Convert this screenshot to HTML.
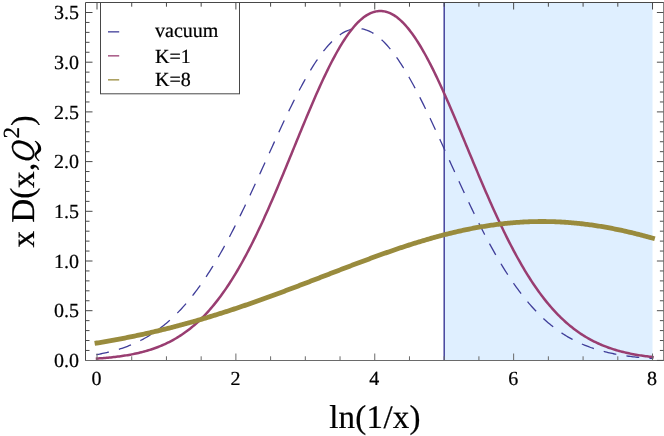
<!DOCTYPE html>
<html><head><meta charset="utf-8"><style>
html,body{margin:0;padding:0;background:#fff;}
svg{display:block;font-family:"Liberation Serif",serif;text-rendering:geometricPrecision;will-change:transform;}
</style></head><body>
<svg width="664" height="436" viewBox="0 0 664 436">
<rect width="664" height="436" fill="#fff"/>
<rect x="444.20" y="2.5" width="208.32" height="358.0" fill="#dfefff"/>
<line x1="444.20" y1="2.5" x2="444.20" y2="360.5" stroke="#3f3d99" stroke-width="1.45"/>
<path d="M97.00,354.55 L98.39,354.29 L99.78,354.03 L101.17,353.76 L102.56,353.48 L103.94,353.18 L105.33,352.88 L106.72,352.56 L108.11,352.24 L109.50,351.90 L110.89,351.55 L112.28,351.19 L113.67,350.81 L115.05,350.42 L116.44,350.02 L117.83,349.61 L119.22,349.18 L120.61,348.73 L122.00,348.27 L123.39,347.80 L124.78,347.30 L126.16,346.80 L127.55,346.27 L128.94,345.73 L130.33,345.17 L131.72,344.60 L133.11,344.00 L134.50,343.39 L135.89,342.76 L137.28,342.11 L138.66,341.44 L140.05,340.75 L141.44,340.03 L142.83,339.30 L144.22,338.54 L145.61,337.77 L147.00,336.97 L148.39,336.15 L149.77,335.30 L151.16,334.43 L152.55,333.54 L153.94,332.62 L155.33,331.67 L156.72,330.70 L158.11,329.71 L159.50,328.69 L160.88,327.64 L162.27,326.56 L163.66,325.46 L165.05,324.33 L166.44,323.17 L167.83,321.98 L169.22,320.77 L170.61,319.52 L172.00,318.24 L173.38,316.94 L174.77,315.60 L176.16,314.23 L177.55,312.83 L178.94,311.40 L180.33,309.94 L181.72,308.45 L183.11,306.92 L184.49,305.36 L185.88,303.77 L187.27,302.14 L188.66,300.49 L190.05,298.80 L191.44,297.07 L192.83,295.31 L194.22,293.52 L195.60,291.69 L196.99,289.83 L198.38,287.94 L199.77,286.01 L201.16,284.05 L202.55,282.05 L203.94,280.02 L205.33,277.95 L206.72,275.85 L208.10,273.72 L209.49,271.55 L210.88,269.35 L212.27,267.12 L213.66,264.85 L215.05,262.55 L216.44,260.22 L217.83,257.86 L219.21,255.46 L220.60,253.03 L221.99,250.57 L223.38,248.08 L224.77,245.56 L226.16,243.01 L227.55,240.43 L228.94,237.82 L230.32,235.18 L231.71,232.52 L233.10,229.83 L234.49,227.11 L235.88,224.36 L237.27,221.59 L238.66,218.80 L240.05,215.99 L241.44,213.15 L242.82,210.29 L244.21,207.41 L245.60,204.51 L246.99,201.59 L248.38,198.65 L249.77,195.70 L251.16,192.73 L252.55,189.75 L253.93,186.75 L255.32,183.74 L256.71,180.72 L258.10,177.69 L259.49,174.66 L260.88,171.61 L262.27,168.56 L263.66,165.51 L265.04,162.45 L266.43,159.39 L267.82,156.33 L269.21,153.27 L270.60,150.21 L271.99,147.16 L273.38,144.11 L274.77,141.07 L276.16,138.04 L277.54,135.01 L278.93,132.00 L280.32,129.01 L281.71,126.02 L283.10,123.06 L284.49,120.11 L285.88,117.18 L287.27,114.27 L288.65,111.39 L290.04,108.53 L291.43,105.69 L292.82,102.88 L294.21,100.10 L295.60,97.36 L296.99,94.64 L298.38,91.96 L299.76,89.32 L301.15,86.71 L302.54,84.14 L303.93,81.61 L305.32,79.13 L306.71,76.68 L308.10,74.28 L309.49,71.93 L310.88,69.63 L312.26,67.38 L313.65,65.17 L315.04,63.02 L316.43,60.93 L317.82,58.88 L319.21,56.90 L320.60,54.97 L321.99,53.10 L323.37,51.30 L324.76,49.55 L326.15,47.87 L327.54,46.25 L328.93,44.69 L330.32,43.20 L331.71,41.78 L333.10,40.43 L334.48,39.14 L335.87,37.93 L337.26,36.78 L338.65,35.71 L340.04,34.71 L341.43,33.78 L342.82,32.92 L344.21,32.14 L345.60,31.43 L346.98,30.80 L348.37,30.25 L349.76,29.77 L351.15,29.37 L352.54,29.04 L353.93,28.79 L355.32,28.62 L356.71,28.52 L358.09,28.50 L359.48,28.56 L360.87,28.70 L362.26,28.91 L363.65,29.20 L365.04,29.56 L366.43,30.01 L367.82,30.53 L369.20,31.12 L370.59,31.79 L371.98,32.54 L373.37,33.36 L374.76,34.25 L376.15,35.22 L377.54,36.25 L378.93,37.37 L380.32,38.55 L381.70,39.80 L383.09,41.12 L384.48,42.51 L385.87,43.97 L387.26,45.49 L388.65,47.08 L390.04,48.74 L391.43,50.46 L392.81,52.23 L394.20,54.08 L395.59,55.98 L396.98,57.94 L398.37,59.95 L399.76,62.02 L401.15,64.15 L402.54,66.33 L403.92,68.56 L405.31,70.85 L406.70,73.18 L408.09,75.56 L409.48,77.98 L410.87,80.45 L412.26,82.96 L413.65,85.51 L415.04,88.11 L416.42,90.74 L417.81,93.40 L419.20,96.11 L420.59,98.84 L421.98,101.61 L423.37,104.41 L424.76,107.23 L426.15,110.09 L427.53,112.96 L428.92,115.87 L430.31,118.79 L431.70,121.73 L433.09,124.70 L434.48,127.68 L435.87,130.67 L437.26,133.68 L438.64,136.70 L440.03,139.73 L441.42,142.78 L442.81,145.83 L444.20,148.88 L445.59,151.94 L446.98,155.01 L448.37,158.07 L449.76,161.14 L451.14,164.20 L452.53,167.26 L453.92,170.32 L455.31,173.37 L456.70,176.42 L458.09,179.46 L459.48,182.49 L460.87,185.51 L462.25,188.51 L463.64,191.51 L465.03,194.49 L466.42,197.45 L467.81,200.40 L469.20,203.34 L470.59,206.25 L471.98,209.14 L473.36,212.02 L474.75,214.87 L476.14,217.70 L477.53,220.51 L478.92,223.30 L480.31,226.06 L481.70,228.79 L483.09,231.50 L484.48,234.18 L485.86,236.83 L487.25,239.46 L488.64,242.06 L490.03,244.63 L491.42,247.16 L492.81,249.67 L494.20,252.15 L495.59,254.59 L496.97,257.01 L498.36,259.39 L499.75,261.74 L501.14,264.06 L502.53,266.34 L503.92,268.59 L505.31,270.81 L506.70,273.00 L508.08,275.15 L509.47,277.26 L510.86,279.34 L512.25,281.39 L513.64,283.41 L515.03,285.39 L516.42,287.33 L517.81,289.24 L519.20,291.12 L520.58,292.96 L521.97,294.77 L523.36,296.54 L524.75,298.28 L526.14,299.99 L527.53,301.66 L528.92,303.30 L530.31,304.91 L531.69,306.48 L533.08,308.02 L534.47,309.53 L535.86,311.01 L537.25,312.45 L538.64,313.86 L540.03,315.25 L541.42,316.59 L542.80,317.91 L544.19,319.20 L545.58,320.46 L546.97,321.69 L548.36,322.89 L549.75,324.06 L551.14,325.20 L552.53,326.31 L553.92,327.40 L555.30,328.46 L556.69,329.49 L558.08,330.49 L559.47,331.47 L560.86,332.42 L562.25,333.35 L563.64,334.25 L565.03,335.13 L566.41,335.98 L567.80,336.82 L569.19,337.62 L570.58,338.41 L571.97,339.17 L573.36,339.91 L574.75,340.63 L576.14,341.33 L577.52,342.00 L578.91,342.66 L580.30,343.30 L581.69,343.92 L583.08,344.52 L584.47,345.10 L585.86,345.66 L587.25,346.20 L588.64,346.73 L590.02,347.24 L591.41,347.74 L592.80,348.22 L594.19,348.68 L595.58,349.13 L596.97,349.56 L598.36,349.98 L599.75,350.39 L601.13,350.78 L602.52,351.16 L603.91,351.52 L605.30,351.88 L606.69,352.22 L608.08,352.55 L609.47,352.86 L610.86,353.17 L612.24,353.46 L613.63,353.75 L615.02,354.02 L616.41,354.29 L617.80,354.54 L619.19,354.79 L620.58,355.02 L621.97,355.25 L623.36,355.47 L624.74,355.68 L626.13,355.88 L627.52,356.08 L628.91,356.26 L630.30,356.44 L631.69,356.62 L633.08,356.78 L634.47,356.94 L635.85,357.09 L637.24,357.24 L638.63,357.38 L640.02,357.52 L641.41,357.65 L642.80,357.77 L644.19,357.89 L645.58,358.01 L646.96,358.12 L648.35,358.22 L649.74,358.32 L651.13,358.42 L652.52,358.51" fill="none" stroke="#3f3d99" stroke-width="1.3" stroke-dasharray="11.58 11.58" stroke-linecap="square"/>
<path d="M97.00,358.56 L98.39,358.46 L99.78,358.37 L101.17,358.26 L102.56,358.15 L103.94,358.04 L105.33,357.92 L106.72,357.80 L108.11,357.67 L109.50,357.54 L110.89,357.40 L112.28,357.25 L113.67,357.10 L115.05,356.94 L116.44,356.77 L117.83,356.59 L119.22,356.41 L120.61,356.22 L122.00,356.03 L123.39,355.82 L124.78,355.61 L126.16,355.38 L127.55,355.15 L128.94,354.91 L130.33,354.66 L131.72,354.39 L133.11,354.12 L134.50,353.84 L135.89,353.54 L137.28,353.24 L138.66,352.92 L140.05,352.59 L141.44,352.24 L142.83,351.89 L144.22,351.51 L145.61,351.13 L147.00,350.73 L148.39,350.32 L149.77,349.89 L151.16,349.44 L152.55,348.98 L153.94,348.51 L155.33,348.01 L156.72,347.50 L158.11,346.97 L159.50,346.42 L160.88,345.85 L162.27,345.27 L163.66,344.66 L165.05,344.03 L166.44,343.38 L167.83,342.71 L169.22,342.02 L170.61,341.31 L172.00,340.57 L173.38,339.81 L174.77,339.02 L176.16,338.21 L177.55,337.38 L178.94,336.52 L180.33,335.63 L181.72,334.72 L183.11,333.77 L184.49,332.81 L185.88,331.81 L187.27,330.78 L188.66,329.72 L190.05,328.64 L191.44,327.52 L192.83,326.37 L194.22,325.19 L195.60,323.98 L196.99,322.74 L198.38,321.46 L199.77,320.15 L201.16,318.81 L202.55,317.43 L203.94,316.01 L205.33,314.57 L206.72,313.08 L208.10,311.56 L209.49,310.00 L210.88,308.41 L212.27,306.78 L213.66,305.11 L215.05,303.40 L216.44,301.65 L217.83,299.87 L219.21,298.05 L220.60,296.19 L221.99,294.29 L223.38,292.35 L224.77,290.37 L226.16,288.35 L227.55,286.29 L228.94,284.19 L230.32,282.05 L231.71,279.87 L233.10,277.65 L234.49,275.39 L235.88,273.09 L237.27,270.75 L238.66,268.37 L240.05,265.95 L241.44,263.50 L242.82,261.00 L244.21,258.46 L245.60,255.89 L246.99,253.28 L248.38,250.63 L249.77,247.94 L251.16,245.22 L252.55,242.46 L253.93,239.66 L255.32,236.83 L256.71,233.97 L258.10,231.07 L259.49,228.14 L260.88,225.17 L262.27,222.18 L263.66,219.15 L265.04,216.10 L266.43,213.01 L267.82,209.90 L269.21,206.76 L270.60,203.60 L271.99,200.41 L273.38,197.19 L274.77,193.96 L276.16,190.70 L277.54,187.43 L278.93,184.13 L280.32,180.82 L281.71,177.50 L283.10,174.16 L284.49,170.80 L285.88,167.44 L287.27,164.07 L288.65,160.69 L290.04,157.30 L291.43,153.91 L292.82,150.51 L294.21,147.11 L295.60,143.72 L296.99,140.32 L298.38,136.93 L299.76,133.55 L301.15,130.17 L302.54,126.81 L303.93,123.45 L305.32,120.11 L306.71,116.79 L308.10,113.48 L309.49,110.19 L310.88,106.92 L312.26,103.67 L313.65,100.45 L315.04,97.26 L316.43,94.10 L317.82,90.97 L319.21,87.87 L320.60,84.80 L321.99,81.78 L323.37,78.79 L324.76,75.85 L326.15,72.94 L327.54,70.08 L328.93,67.27 L330.32,64.51 L331.71,61.80 L333.10,59.14 L334.48,56.54 L335.87,53.99 L337.26,51.50 L338.65,49.07 L340.04,46.71 L341.43,44.40 L342.82,42.16 L344.21,39.99 L345.60,37.88 L346.98,35.85 L348.37,33.89 L349.76,31.99 L351.15,30.18 L352.54,28.44 L353.93,26.77 L355.32,25.18 L356.71,23.67 L358.09,22.25 L359.48,20.90 L360.87,19.63 L362.26,18.45 L363.65,17.36 L365.04,16.34 L366.43,15.42 L367.82,14.58 L369.20,13.82 L370.59,13.16 L371.98,12.58 L373.37,12.09 L374.76,11.69 L376.15,11.37 L377.54,11.15 L378.93,11.02 L380.32,10.97 L381.70,11.02 L383.09,11.15 L384.48,11.38 L385.87,11.69 L387.26,12.09 L388.65,12.58 L390.04,13.16 L391.43,13.83 L392.81,14.58 L394.20,15.42 L395.59,16.34 L396.98,17.35 L398.37,18.45 L399.76,19.63 L401.15,20.89 L402.54,22.23 L403.92,23.65 L405.31,25.15 L406.70,26.73 L408.09,28.38 L409.48,30.11 L410.87,31.92 L412.26,33.80 L413.65,35.75 L415.04,37.77 L416.42,39.86 L417.81,42.01 L419.20,44.23 L420.59,46.52 L421.98,48.87 L423.37,51.27 L424.76,53.74 L426.15,56.26 L427.53,58.84 L428.92,61.47 L430.31,64.16 L431.70,66.89 L433.09,69.67 L434.48,72.50 L435.87,75.37 L437.26,78.28 L438.64,81.23 L440.03,84.22 L441.42,87.25 L442.81,90.31 L444.20,93.40 L445.59,96.53 L446.98,99.68 L448.37,102.86 L449.76,106.06 L451.14,109.28 L452.53,112.53 L453.92,115.79 L455.31,119.08 L456.70,122.37 L458.09,125.68 L459.48,129.00 L460.87,132.33 L462.25,135.67 L463.64,139.01 L465.03,142.36 L466.42,145.71 L467.81,149.05 L469.20,152.40 L470.59,155.75 L471.98,159.09 L473.36,162.42 L474.75,165.75 L476.14,169.07 L477.53,172.37 L478.92,175.67 L480.31,178.95 L481.70,182.21 L483.09,185.46 L484.48,188.69 L485.86,191.91 L487.25,195.10 L488.64,198.27 L490.03,201.42 L491.42,204.54 L492.81,207.64 L494.20,210.72 L495.59,213.77 L496.97,216.79 L498.36,219.78 L499.75,222.74 L501.14,225.67 L502.53,228.57 L503.92,231.44 L505.31,234.28 L506.70,237.08 L508.08,239.85 L509.47,242.58 L510.86,245.28 L512.25,247.95 L513.64,250.58 L515.03,253.17 L516.42,255.73 L517.81,258.24 L519.20,260.73 L520.58,263.17 L521.97,265.58 L523.36,267.94 L524.75,270.27 L526.14,272.57 L527.53,274.82 L528.92,277.03 L530.31,279.21 L531.69,281.35 L533.08,283.45 L534.47,285.51 L535.86,287.53 L537.25,289.51 L538.64,291.46 L540.03,293.37 L541.42,295.23 L542.80,297.07 L544.19,298.86 L545.58,300.62 L546.97,302.34 L548.36,304.02 L549.75,305.67 L551.14,307.28 L552.53,308.85 L553.92,310.39 L555.30,311.89 L556.69,313.36 L558.08,314.80 L559.47,316.20 L560.86,317.57 L562.25,318.90 L563.64,320.20 L565.03,321.47 L566.41,322.71 L567.80,323.92 L569.19,325.09 L570.58,326.24 L571.97,327.35 L573.36,328.44 L574.75,329.49 L576.14,330.52 L577.52,331.52 L578.91,332.49 L580.30,333.44 L581.69,334.36 L583.08,335.25 L584.47,336.12 L585.86,336.96 L587.25,337.78 L588.64,338.58 L590.02,339.35 L591.41,340.10 L592.80,340.82 L594.19,341.53 L595.58,342.21 L596.97,342.87 L598.36,343.51 L599.75,344.13 L601.13,344.73 L602.52,345.31 L603.91,345.88 L605.30,346.42 L606.69,346.95 L608.08,347.46 L609.47,347.95 L610.86,348.43 L612.24,348.89 L613.63,349.34 L615.02,349.77 L616.41,350.18 L617.80,350.59 L619.19,350.97 L620.58,351.35 L621.97,351.71 L623.36,352.06 L624.74,352.39 L626.13,352.72 L627.52,353.03 L628.91,353.33 L630.30,353.62 L631.69,353.90 L633.08,354.17 L634.47,354.43 L635.85,354.68 L637.24,354.92 L638.63,355.15 L640.02,355.37 L641.41,355.58 L642.80,355.79 L644.19,355.99 L645.58,356.18 L646.96,356.36 L648.35,356.53 L649.74,356.70 L651.13,356.86 L652.52,357.02" fill="none" stroke="#993d71" stroke-width="2.5" stroke-linecap="square"/>
<path d="M97.00,342.99 L98.39,342.76 L99.78,342.53 L101.17,342.30 L102.56,342.07 L103.94,341.83 L105.33,341.59 L106.72,341.35 L108.11,341.11 L109.50,340.86 L110.89,340.62 L112.28,340.37 L113.67,340.12 L115.05,339.86 L116.44,339.60 L117.83,339.35 L119.22,339.08 L120.61,338.82 L122.00,338.56 L123.39,338.29 L124.78,338.02 L126.16,337.74 L127.55,337.47 L128.94,337.19 L130.33,336.91 L131.72,336.63 L133.11,336.34 L134.50,336.05 L135.89,335.76 L137.28,335.47 L138.66,335.18 L140.05,334.88 L141.44,334.58 L142.83,334.28 L144.22,333.97 L145.61,333.66 L147.00,333.35 L148.39,333.04 L149.77,332.73 L151.16,332.41 L152.55,332.09 L153.94,331.77 L155.33,331.44 L156.72,331.12 L158.11,330.79 L159.50,330.45 L160.88,330.12 L162.27,329.78 L163.66,329.44 L165.05,329.10 L166.44,328.76 L167.83,328.41 L169.22,328.06 L170.61,327.71 L172.00,327.35 L173.38,326.99 L174.77,326.63 L176.16,326.27 L177.55,325.91 L178.94,325.54 L180.33,325.17 L181.72,324.80 L183.11,324.42 L184.49,324.05 L185.88,323.67 L187.27,323.28 L188.66,322.90 L190.05,322.51 L191.44,322.12 L192.83,321.73 L194.22,321.34 L195.60,320.94 L196.99,320.54 L198.38,320.14 L199.77,319.73 L201.16,319.33 L202.55,318.92 L203.94,318.51 L205.33,318.09 L206.72,317.68 L208.10,317.26 L209.49,316.84 L210.88,316.42 L212.27,315.99 L213.66,315.56 L215.05,315.13 L216.44,314.70 L217.83,314.27 L219.21,313.83 L220.60,313.39 L221.99,312.95 L223.38,312.51 L224.77,312.06 L226.16,311.62 L227.55,311.17 L228.94,310.71 L230.32,310.26 L231.71,309.80 L233.10,309.35 L234.49,308.89 L235.88,308.42 L237.27,307.96 L238.66,307.49 L240.05,307.02 L241.44,306.55 L242.82,306.08 L244.21,305.61 L245.60,305.13 L246.99,304.65 L248.38,304.17 L249.77,303.69 L251.16,303.21 L252.55,302.72 L253.93,302.24 L255.32,301.75 L256.71,301.26 L258.10,300.76 L259.49,300.27 L260.88,299.78 L262.27,299.28 L263.66,298.78 L265.04,298.28 L266.43,297.78 L267.82,297.27 L269.21,296.77 L270.60,296.26 L271.99,295.76 L273.38,295.25 L274.77,294.74 L276.16,294.22 L277.54,293.71 L278.93,293.20 L280.32,292.68 L281.71,292.17 L283.10,291.65 L284.49,291.13 L285.88,290.61 L287.27,290.09 L288.65,289.57 L290.04,289.04 L291.43,288.52 L292.82,287.99 L294.21,287.47 L295.60,286.94 L296.99,286.41 L298.38,285.89 L299.76,285.36 L301.15,284.83 L302.54,284.30 L303.93,283.76 L305.32,283.23 L306.71,282.70 L308.10,282.17 L309.49,281.64 L310.88,281.10 L312.26,280.57 L313.65,280.03 L315.04,279.50 L316.43,278.96 L317.82,278.43 L319.21,277.89 L320.60,277.36 L321.99,276.82 L323.37,276.29 L324.76,275.75 L326.15,275.22 L327.54,274.68 L328.93,274.14 L330.32,273.61 L331.71,273.07 L333.10,272.54 L334.48,272.01 L335.87,271.47 L337.26,270.94 L338.65,270.40 L340.04,269.87 L341.43,269.34 L342.82,268.81 L344.21,268.28 L345.60,267.75 L346.98,267.22 L348.37,266.69 L349.76,266.16 L351.15,265.63 L352.54,265.11 L353.93,264.58 L355.32,264.06 L356.71,263.53 L358.09,263.01 L359.48,262.49 L360.87,261.97 L362.26,261.45 L363.65,260.93 L365.04,260.42 L366.43,259.90 L367.82,259.39 L369.20,258.88 L370.59,258.37 L371.98,257.86 L373.37,257.35 L374.76,256.85 L376.15,256.34 L377.54,255.84 L378.93,255.34 L380.32,254.84 L381.70,254.35 L383.09,253.85 L384.48,253.36 L385.87,252.87 L387.26,252.38 L388.65,251.90 L390.04,251.41 L391.43,250.93 L392.81,250.45 L394.20,249.97 L395.59,249.50 L396.98,249.03 L398.37,248.56 L399.76,248.09 L401.15,247.63 L402.54,247.17 L403.92,246.71 L405.31,246.25 L406.70,245.80 L408.09,245.35 L409.48,244.90 L410.87,244.46 L412.26,244.02 L413.65,243.58 L415.04,243.14 L416.42,242.71 L417.81,242.28 L419.20,241.85 L420.59,241.43 L421.98,241.01 L423.37,240.60 L424.76,240.18 L426.15,239.77 L427.53,239.37 L428.92,238.97 L430.31,238.57 L431.70,238.17 L433.09,237.78 L434.48,237.40 L435.87,237.01 L437.26,236.63 L438.64,236.26 L440.03,235.88 L441.42,235.52 L442.81,235.15 L444.20,234.79 L445.59,234.44 L446.98,234.08 L448.37,233.74 L449.76,233.39 L451.14,233.05 L452.53,232.72 L453.92,232.39 L455.31,232.06 L456.70,231.74 L458.09,231.42 L459.48,231.11 L460.87,230.80 L462.25,230.49 L463.64,230.19 L465.03,229.90 L466.42,229.61 L467.81,229.32 L469.20,229.04 L470.59,228.76 L471.98,228.49 L473.36,228.23 L474.75,227.96 L476.14,227.71 L477.53,227.45 L478.92,227.21 L480.31,226.96 L481.70,226.73 L483.09,226.49 L484.48,226.26 L485.86,226.04 L487.25,225.82 L488.64,225.61 L490.03,225.40 L491.42,225.20 L492.81,225.01 L494.20,224.81 L495.59,224.63 L496.97,224.45 L498.36,224.27 L499.75,224.10 L501.14,223.93 L502.53,223.77 L503.92,223.62 L505.31,223.47 L506.70,223.32 L508.08,223.19 L509.47,223.05 L510.86,222.92 L512.25,222.80 L513.64,222.68 L515.03,222.57 L516.42,222.47 L517.81,222.37 L519.20,222.27 L520.58,222.18 L521.97,222.10 L523.36,222.02 L524.75,221.95 L526.14,221.88 L527.53,221.82 L528.92,221.76 L530.31,221.71 L531.69,221.67 L533.08,221.63 L534.47,221.59 L535.86,221.56 L537.25,221.54 L538.64,221.52 L540.03,221.51 L541.42,221.51 L542.80,221.51 L544.19,221.51 L545.58,221.52 L546.97,221.54 L548.36,221.56 L549.75,221.59 L551.14,221.62 L552.53,221.66 L553.92,221.71 L555.30,221.76 L556.69,221.81 L558.08,221.87 L559.47,221.94 L560.86,222.01 L562.25,222.09 L563.64,222.18 L565.03,222.26 L566.41,222.36 L567.80,222.46 L569.19,222.57 L570.58,222.68 L571.97,222.79 L573.36,222.92 L574.75,223.04 L576.14,223.18 L577.52,223.31 L578.91,223.46 L580.30,223.61 L581.69,223.76 L583.08,223.92 L584.47,224.09 L585.86,224.26 L587.25,224.43 L588.64,224.61 L590.02,224.80 L591.41,224.99 L592.80,225.19 L594.19,225.39 L595.58,225.60 L596.97,225.81 L598.36,226.03 L599.75,226.25 L601.13,226.48 L602.52,226.71 L603.91,226.95 L605.30,227.19 L606.69,227.44 L608.08,227.69 L609.47,227.95 L610.86,228.21 L612.24,228.47 L613.63,228.75 L615.02,229.02 L616.41,229.30 L617.80,229.59 L619.19,229.88 L620.58,230.17 L621.97,230.47 L623.36,230.78 L624.74,231.09 L626.13,231.40 L627.52,231.72 L628.91,232.04 L630.30,232.36 L631.69,232.70 L633.08,233.03 L634.47,233.37 L635.85,233.71 L637.24,234.06 L638.63,234.41 L640.02,234.77 L641.41,235.13 L642.80,235.49 L644.19,235.86 L645.58,236.23 L646.96,236.61 L648.35,236.99 L649.74,237.37 L651.13,237.76 L652.52,238.15" fill="none" stroke="#998b3d" stroke-width="4.8" stroke-linecap="square"/>
<path d="M85.5,360.5 V2.5 H664.0" fill="none" stroke="#484848" stroke-width="1"/>
<path d="M85.0,360.5 H664.0" fill="none" stroke="#6a6a6a" stroke-width="1"/>
<path d="M663.5,2.5 V360.5" fill="none" stroke="#858585" stroke-width="1"/>
<path d="M97.00,2.5 v7 M131.72,2.5 v4.2 M166.44,2.5 v4.2 M201.16,2.5 v4.2 M235.88,2.5 v7 M270.60,2.5 v4.2 M305.32,2.5 v4.2 M340.04,2.5 v4.2 M374.76,2.5 v7 M409.48,2.5 v4.2 M444.20,2.5 v4.2 M478.92,2.5 v4.2 M513.64,2.5 v7 M548.36,2.5 v4.2 M583.08,2.5 v4.2 M617.80,2.5 v4.2 M652.52,2.5 v7 M85.5,350.46 h4 M85.5,340.52 h4 M85.5,330.58 h4 M85.5,320.64 h4 M85.5,310.70 h7 M85.5,300.76 h4 M85.5,290.82 h4 M85.5,280.88 h4 M85.5,270.94 h4 M85.5,261.00 h7 M85.5,251.06 h4 M85.5,241.12 h4 M85.5,231.18 h4 M85.5,221.24 h4 M85.5,211.30 h7 M85.5,201.36 h4 M85.5,191.42 h4 M85.5,181.48 h4 M85.5,171.54 h4 M85.5,161.60 h7 M85.5,151.66 h4 M85.5,141.72 h4 M85.5,131.78 h4 M85.5,121.84 h4 M85.5,111.90 h7 M85.5,101.96 h4 M85.5,92.02 h4 M85.5,82.08 h4 M85.5,72.14 h4 M85.5,62.20 h7 M85.5,52.26 h4 M85.5,42.32 h4 M85.5,32.38 h4 M85.5,22.44 h4 M85.5,12.50 h7" stroke="#484848" stroke-width="1" fill="none"/>
<path d="M97.00,360.5 v-7 M131.72,360.5 v-4.2 M166.44,360.5 v-4.2 M201.16,360.5 v-4.2 M235.88,360.5 v-7 M270.60,360.5 v-4.2 M305.32,360.5 v-4.2 M340.04,360.5 v-4.2 M374.76,360.5 v-7 M409.48,360.5 v-4.2 M444.20,360.5 v-4.2 M478.92,360.5 v-4.2 M513.64,360.5 v-7 M548.36,360.5 v-4.2 M583.08,360.5 v-4.2 M617.80,360.5 v-4.2 M652.52,360.5 v-7" stroke="#6a6a6a" stroke-width="1" fill="none"/>
<path d="M663.5,360.40 h-6.6 M663.5,350.46 h-3.6 M663.5,340.52 h-3.6 M663.5,330.58 h-3.6 M663.5,320.64 h-3.6 M663.5,310.70 h-6.6 M663.5,300.76 h-3.6 M663.5,290.82 h-3.6 M663.5,280.88 h-3.6 M663.5,270.94 h-3.6 M663.5,261.00 h-6.6 M663.5,251.06 h-3.6 M663.5,241.12 h-3.6 M663.5,231.18 h-3.6 M663.5,221.24 h-3.6 M663.5,211.30 h-6.6 M663.5,201.36 h-3.6 M663.5,191.42 h-3.6 M663.5,181.48 h-3.6 M663.5,171.54 h-3.6 M663.5,161.60 h-6.6 M663.5,151.66 h-3.6 M663.5,141.72 h-3.6 M663.5,131.78 h-3.6 M663.5,121.84 h-3.6 M663.5,111.90 h-6.6 M663.5,101.96 h-3.6 M663.5,92.02 h-3.6 M663.5,82.08 h-3.6 M663.5,72.14 h-3.6 M663.5,62.20 h-6.6 M663.5,52.26 h-3.6 M663.5,42.32 h-3.6 M663.5,32.38 h-3.6 M663.5,22.44 h-3.6 M663.5,12.50 h-6.6" stroke="#505050" stroke-width="1" fill="none"/>
<rect x="100.5" y="2.5" width="139" height="91.3" fill="none" stroke="#484848" stroke-width="1"/>
<line x1="108" y1="31.85" x2="119.2" y2="31.85" stroke="#3f3d99" stroke-width="1.3"/>
<line x1="108" y1="55.85" x2="119.2" y2="55.85" stroke="#993d71" stroke-width="1.3"/>
<line x1="108" y1="79.85" x2="119.2" y2="79.85" stroke="#998b3d" stroke-width="1.3"/>
<g fill="#000" stroke="#000" stroke-width="0.22">
<text x="155" y="36.8" font-size="20">vacuum</text>
<text x="155" y="62.5" font-size="20">K=1</text>
<text x="155" y="86.2" font-size="20">K=8</text>
<text x="96.60" y="384.6" font-size="20" text-anchor="middle">0</text>
<text x="235.48" y="384.6" font-size="20" text-anchor="middle">2</text>
<text x="374.36" y="384.6" font-size="20" text-anchor="middle">4</text>
<text x="513.24" y="384.6" font-size="20" text-anchor="middle">6</text>
<text x="652.12" y="384.6" font-size="20" text-anchor="middle">8</text>
<text x="79" y="367.00" font-size="20" text-anchor="end">0.0</text>
<text x="79" y="317.30" font-size="20" text-anchor="end">0.5</text>
<text x="79" y="267.60" font-size="20" text-anchor="end">1.0</text>
<text x="79" y="217.90" font-size="20" text-anchor="end">1.5</text>
<text x="79" y="168.20" font-size="20" text-anchor="end">2.0</text>
<text x="79" y="118.50" font-size="20" text-anchor="end">2.5</text>
<text x="79" y="68.80" font-size="20" text-anchor="end">3.0</text>
<text x="79" y="19.10" font-size="20" text-anchor="end">3.5</text>
<text x="375" y="428.4" font-size="33" letter-spacing="0.27" text-anchor="middle">ln(1/x)</text>
<g transform="translate(33.6,247.3) rotate(-90)"><text font-size="33.3" x="-0.2 16 24.5 48.6 59.3 76.4" y="0 0 0 -0.5 0 0">x D(x,</text><text font-size="33.5" font-style="italic" transform="translate(84.3,0) skewX(-9) scale(0.87,1)" x="0" y="0">O</text><text font-size="23" x="108.8" y="-14.4">2</text><text font-size="32" x="121.36" y="-0.8">)</text></g>
<path stroke="none" d="M38.6,161.2 C36.6,159.4 34.7,157.4 34.5,155.3 C34.3,152.3 37.7,151.3 38.0,148.3 C38.3,145.3 36.3,142.8 34.6,141.3 L35.3,140.7 C39.2,142.6 41.4,145.8 41.2,149.2 C41.0,152.8 36.9,153.0 36.5,155.4 C36.3,156.9 37.8,158.6 39.6,160.6 Z"/>
</g>
</svg>
</body></html>
